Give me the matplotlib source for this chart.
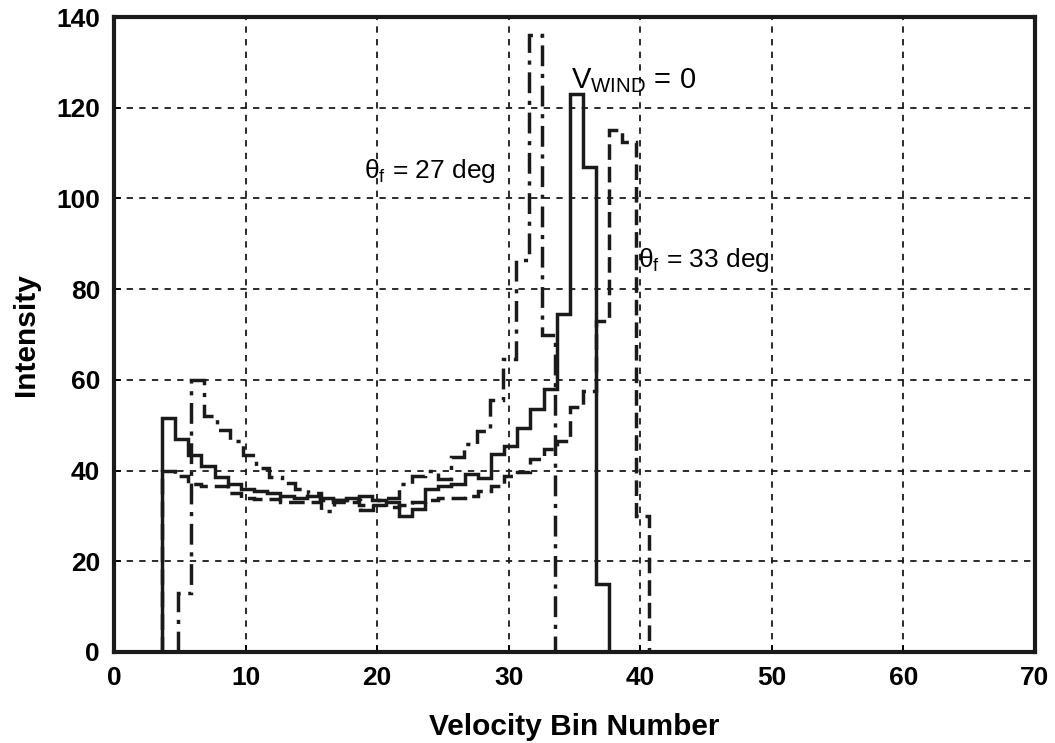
import numpy as np
import matplotlib
matplotlib.use("Agg")
import matplotlib.pyplot as plt

plt.rcParams['font.family'] = ['Liberation Sans', 'DejaVu Sans']
plt.rcParams['mathtext.fontset'] = 'custom'
plt.rcParams['mathtext.rm'] = 'Liberation Sans'
plt.rcParams['mathtext.it'] = 'Liberation Sans'

# ---- data ----
# V_wind = 0 (solid): 34 bins from 3.65 to 37.65
solid_start, solid_end = 3.65, 37.65
solid_vals = [51.5, 47, 43.5, 41, 38.5, 37, 36, 35.5, 35, 34.5, 34, 34.5, 34,
              33.5, 34, 34.5, 33.5, 33, 30, 31.5, 36, 36.5, 37, 39.2, 38.3,
              43.6, 45.5, 49.5, 53.5, 58, 74.6, 123, 107, 15]

# theta_f = 27 deg (dash-dot): 29 bins from 4.87 to 33.52
dd_start, dd_end = 4.87, 33.52
dd_vals = [13, 60, 52, 49, 46.5, 43.5, 40.5, 38.5, 37.3, 36, 35, 31, 33.5,
           33.5, 31.3, 33.5, 34, 37, 38.8, 39.9, 38.1, 42.9, 45.8, 48.8, 55.5,
           64.7, 86.4, 136, 70]

# theta_f = 33 deg (dashed): 37 bins from 3.65 to 40.65
da_start, da_end = 3.65, 40.65
da_vals = [39.8, 38.8, 37, 36.5, 36.5, 35, 34, 33.7, 33.7, 33, 33, 33, 33.5,
           33, 33, 32.5, 32.5, 32, 32.5, 33, 33.5, 34, 34, 34.4, 35.5, 36.6,
           38.8, 39.6, 42.5, 44.7, 46.6, 54, 57.6, 73, 115, 112.5, 30]

x_ticks = [0, 10, 20, 30, 40, 50, 60, 70]
y_ticks = [0, 20, 40, 60, 80, 100, 120, 140]

fig = plt.figure(figsize=(10.55, 7.43), dpi=100)
ax = fig.add_axes([0.108, 0.1225, 0.873, 0.8545])

def edges(a, b, vals):
    return np.linspace(a, b, len(vals) + 1)

lw = 2.5
ax.stairs(solid_vals, edges(solid_start, solid_end, solid_vals), baseline=0,
          color='#1a1a1a', lw=lw, linestyle='-', zorder=3)
ax.stairs(dd_vals, edges(dd_start, dd_end, dd_vals), baseline=0,
          color='#1a1a1a', lw=lw, linestyle=(0, (6, 2.2, 1.2, 2.2)), zorder=3)
ax.stairs(da_vals, edges(da_start, da_end, da_vals), baseline=0,
          color='#1a1a1a', lw=lw, linestyle=(0, (4.5, 2)), zorder=3)

ax.set_xlim(0, 70)
ax.set_ylim(0, 140)
ax.set_xticks(x_ticks)
ax.set_yticks(y_ticks)
ax.grid(True, color='#1a1a1a', linestyle=(0, (3.5, 3.5)), linewidth=1.3, zorder=1)
ax.tick_params(direction='in', length=5, width=1.3, labelsize=19, pad=10)
for lab in ax.get_xticklabels() + ax.get_yticklabels():
    lab.set_fontweight('bold')
for s in ax.spines.values():
    s.set_linewidth(3)
    s.set_color('#1a1a1a')

ax.set_xlabel('Velocity Bin Number', fontsize=21.5, fontweight='bold', labelpad=17)
ax.set_ylabel('Intensity', fontsize=21.5, fontweight='bold', labelpad=12)

ax.text(34.7, 126, r'V$_{\mathrm{WIND}}$ = 0', fontsize=21, va='center', ha='left')
ax.text(19, 106, r'θ$_{\mathrm{f}}$ = 27 deg', fontsize=19, va='center', ha='left')
ax.text(39.8, 86.5, r'θ$_{\mathrm{f}}$ = 33 deg', fontsize=19, va='center', ha='left')

fig.savefig('out.png', dpi=100)
